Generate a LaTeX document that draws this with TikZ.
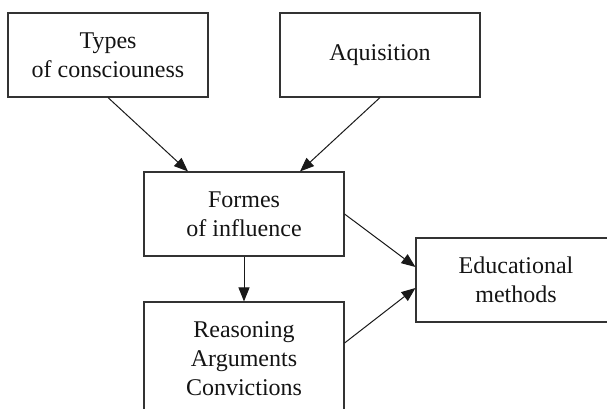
\documentclass[tikz,border=0pt]{standalone}
\usepackage{fontspec}
\setmainfont{Liberation Serif}
\usetikzlibrary{arrows.meta,calc}
\begin{document}
\begin{tikzpicture}[x=1pt,y=-1pt,
  box/.style={draw=black!80,line width=1.1pt,rectangle,align=center,inner sep=0pt,
    minimum width=200pt,font=\fontsize{24}{29}\selectfont,text=black!92},
  conn/.style={draw=black!90,line width=1pt,-{Triangle[length=14pt,width=11pt]}}]
\useasboundingbox (0,0) rectangle (607,409);
\clip (0,0) rectangle (607,409);
\node[box,minimum height=84pt] (t) at (108,55) {Types\\of consciouness};
\node[box,minimum height=84pt] (a) at (380,55) {Aquisition};
\node[box,minimum height=84pt] (f) at (244,214) {Formes\\of influence};
\node[box,minimum height=84pt] (e) at (516,280) {Educational\\methods};
\node[box,minimum height=113pt] (r) at (244,358.5) {Reasoning\\Arguments\\Convictions};
\draw[conn] (t.south) -- ($(f.north)+(-56,0)$);
\draw[conn] (a.south) -- ($(f.north)+(56,0)$);
\draw[conn] (f.east) -- ($(e.west)+(0,-13)$);
\draw[conn] ($(r.east)+(0,-15.5)$) -- ($(e.west)+(0,8)$);
\draw[conn] (f.south) -- (r.north);
\end{tikzpicture}
\end{document}
